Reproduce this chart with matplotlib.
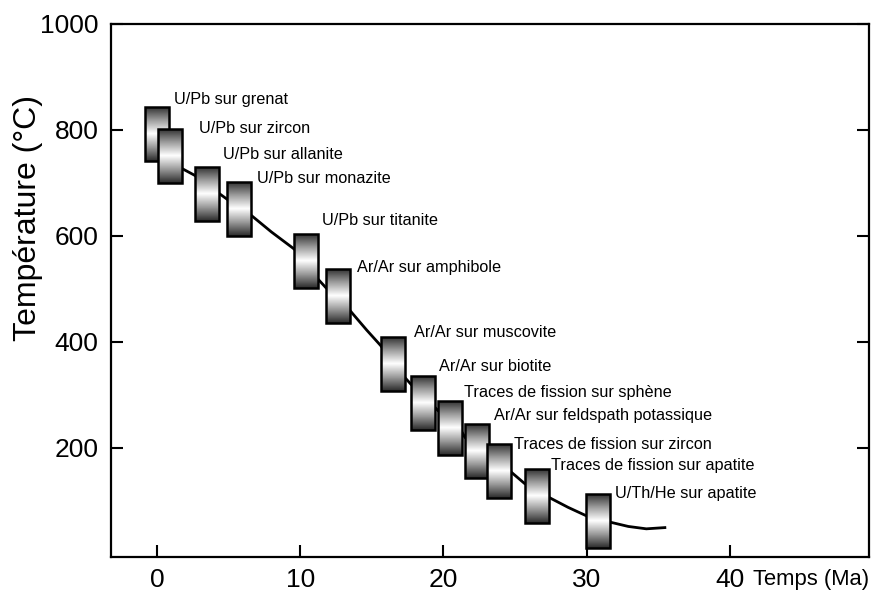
import numpy as np
import matplotlib
matplotlib.use("Agg")
import matplotlib.pyplot as plt
from matplotlib.patches import Rectangle
from matplotlib import font_manager
from matplotlib.colors import LinearSegmentedColormap

# Data
methods = ["U/Pb sur grenat", "U/Pb sur zircon", "U/Pb sur allanite", "U/Pb sur monazite",
           "U/Pb sur titanite", "Ar/Ar sur amphibole", "Ar/Ar sur muscovite", "Ar/Ar sur biotite",
           "Traces de fission sur sphène", "Ar/Ar sur feldspath potassique",
           "Traces de fission sur zircon", "Traces de fission sur apatite", "U/Th/He sur apatite"]
ages = [0.03, 0.89, 3.48, 5.73, 10.38, 12.65, 16.46, 18.55, 20.44, 22.35, 23.9, 26.5, 30.8]
temps = [792, 750, 679, 650, 553, 486, 359, 284, 238, 195, 157, 110, 63]

# cooling path
path_age = [0.0, 0.9, 1.73, 2.63, 3.5, 4.33, 4.89, 5.7, 6.56, 8.0, 9.53, 10.4, 11.22, 11.8,
            12.7, 13.7, 14.65, 15.62, 16.5, 17.3, 17.7, 18.5, 19.39, 19.6, 20.4, 21.29, 21.5,
            22.4, 23.2, 23.9, 24.75, 25.66, 26.5, 27.35, 28.7, 29.98, 30.8, 31.65, 32.9, 34.16, 35.55]
path_temp = [790, 752, 727, 714, 697, 680, 669, 655, 639, 607, 576, 555, 519, 502,
             484, 452, 422, 393, 360, 333, 321, 298, 277, 271, 250, 230, 220,
             197, 180, 168, 154, 133, 120, 107, 88, 72, 65, 60, 52, 47.5, 50]

# label offsets (Ma, degC) from box centre
label_dx = [1.14, 2.02, 1.13, 1.25, 1.15, 1.32, 1.48, 1.14, 0.99, 1.17, 1.01, 1.04, 1.2]
label_dy = [64, 52, 75, 58, 76, 54, 59, 70, 66, 66, 50, 56, 52]

avail = {f.name for f in font_manager.fontManager.ttflist}
fam = [f for f in ["Liberation Sans Narrow", "Liberation Sans", "DejaVu Sans"] if f in avail]
plt.rcParams['font.family'] = fam

box_w = 1.67
box_h = 102

fig = plt.figure(figsize=(8.9, 5.95), dpi=100)
ax = fig.add_axes([0.1247, 0.0644, 0.8517, 0.8961])

ax.plot(path_age, path_temp, color='black', lw=2.0, zorder=1, solid_capstyle='butt')

cmap = LinearSegmentedColormap.from_list("metal", ["#2b2b2b", "#9a9a9a", "#ffffff", "#9a9a9a", "#2b2b2b"])
grad = np.linspace(0, 1, 200).reshape(-1, 1)
for i, (a, t) in enumerate(zip(ages, temps)):
    x0, y0 = a - box_w / 2, t - box_h / 2
    im = ax.imshow(grad, cmap=cmap, aspect='auto', extent=[x0, x0 + box_w, y0, y0 + box_h],
                   origin='lower', zorder=2 + i, interpolation='bilinear')
    rect = Rectangle((x0, y0), box_w, box_h, facecolor='none', edgecolor='black', lw=1.8, zorder=2 + i)
    ax.add_patch(rect)
    im.set_clip_path(rect)
    ax.text(a + label_dx[i], t + label_dy[i], methods[i], fontsize=11.7, ha='left', va='center', zorder=30)

ax.set_xlim(-3.2, 49.7)
ax.set_ylim(-5, 1000)
ax.set_xticks([0, 10, 20, 30, 40])
ax.set_yticks([200, 400, 600, 800, 1000])
ax.tick_params(axis='both', direction='in', length=8.5, width=1.5, labelsize=19, pad=8)
ax.tick_params(axis='y', right=True, pad=9)
for s in ax.spines.values():
    s.set_linewidth(1.6)

# y label sits above the axis centre in the original
ax.text(-0.11, 0.635, "Température (°C)", transform=ax.transAxes, fontsize=23,
        rotation=90, ha='center', va='center')
ax.text(1.0, -0.042, "Temps (Ma)", transform=ax.transAxes, fontsize=15.8, ha='right', va='center')

fig.savefig("out.png", dpi=100)
